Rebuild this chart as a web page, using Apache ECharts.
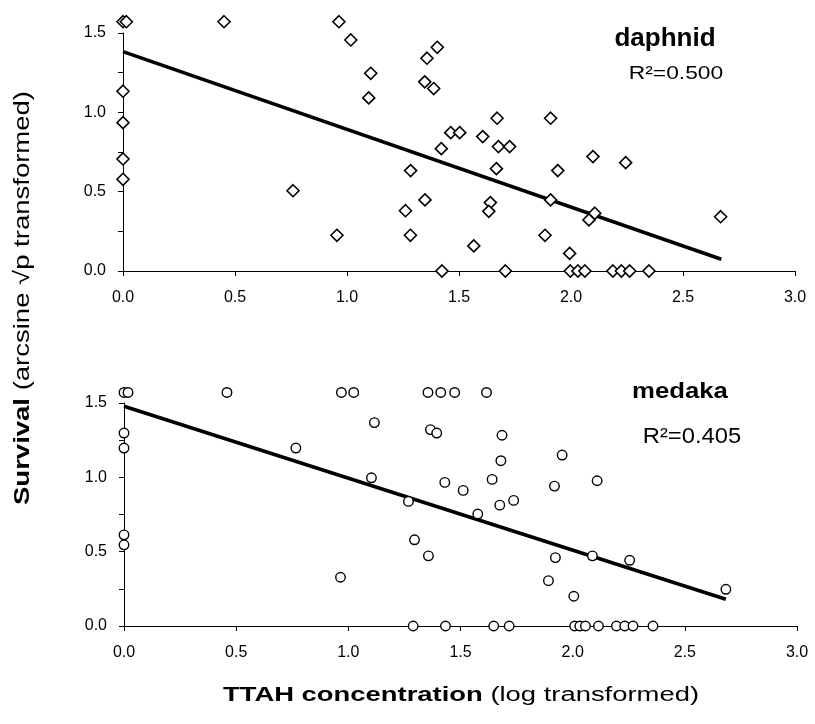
<!DOCTYPE html>
<html>
<head>
<meta charset="utf-8">
<script src="https://cdn.jsdelivr.net/npm/echarts@6/dist/echarts.min.js"></script>
<style>
html,body{margin:0;padding:0;background:#fff;}
#chart{width:815px;height:724px;}
</style>
</head>
<body>
<div id="chart"></div>
<script>
// ---- data ----
var daphnidX = [0, 0.015, 0, 0, 0, 0,
  0.451, 0.759, 0.955, 0.964, 1.017,
  1.106, 1.097, 1.357, 1.403, 1.347, 1.387,
  1.284, 1.348, 1.261, 1.283, 1.421, 1.463, 1.503,
  1.566, 1.606, 1.670, 1.676, 1.726, 1.667, 1.640, 1.633,
  1.909, 1.941, 1.909, 1.884, 1.994,
  2.098, 2.244, 2.106, 2.080, 2.668,
  1.424, 1.707, 1.997, 2.031, 2.062, 2.187, 2.225, 2.262, 2.348];
var daphnidY = [1.571, 1.571, 1.133, 0.935, 0.706, 0.578,
  1.571, 0.506, 0.225, 1.571, 1.456,
  1.246, 1.091, 1.341, 1.410, 1.192, 1.150,
  0.633, 0.448, 0.380, 0.225, 0.771, 0.872, 0.872,
  0.158, 0.847, 0.963, 0.784, 0.784, 0.645, 0.431, 0.376,
  0.963, 0.633, 0.448, 0.225, 0.111,
  0.721, 0.683, 0.364, 0.322, 0.342,
  0, 0, 0, 0, 0, 0, 0, 0, 0];
var medakaX = [0, 0.018, 0, 0, 0, 0,
  0.459, 0.766, 0.965, 0.969, 1.024,
  1.116, 1.103, 1.355, 1.412, 1.474, 1.616,
  1.366, 1.394, 1.268, 1.295, 1.357, 1.430, 1.512, 1.577,
  1.641, 1.685, 1.680, 1.675, 1.737,
  1.953, 1.919, 1.923, 1.892, 2.005,
  2.109, 2.088, 2.254, 2.683,
  1.289, 1.433, 1.648, 1.717, 2.009, 2.032, 2.057, 2.115, 2.195, 2.232, 2.269, 2.358];
var medakaY = [1.571, 1.571, 1.298, 1.197, 0.613, 0.546,
  1.571, 1.197, 0.328, 1.571, 1.571,
  1.368, 0.997, 1.571, 1.571, 1.571, 1.571,
  1.321, 1.298, 0.838, 0.580, 0.472, 0.966, 0.912, 0.753,
  0.986, 1.283, 1.112, 0.813, 0.845,
  1.150, 0.941, 0.460, 0.305, 0.200,
  0.977, 0.472, 0.442, 0.247,
  0, 0, 0, 0, 0, 0, 0, 0, 0, 0, 0, 0];
// regression line endpoints
var daphnidFitX = [0, 2.671];
var daphnidFitY = [1.383, 0.074];
var medakaFitX = [0, 2.683];
var medakaFitY = [1.478, 0.180];
var xTicks = [0.0, 0.5, 1.0, 1.5, 2.0, 2.5, 3.0];
var yTicks = [0.0, 0.5, 1.0, 1.5];
var panelNames = ['daphnid', 'medaka'];
var r2Labels = ['R\u00B2=0.500', 'R\u00B2=0.405'];
var xTitleBold = 'TTAH concentration';
var xTitleRest = ' (log transformed)';
var yTitleBold = 'Survival';
var yTitleRest = ' (arcsine \u221Ap transformed)';

function zip(a, b) { return a.map(function (v, i) { return [v, b[i]]; }); }

var FONT = '"Liberation Sans", Arial, sans-serif';
var axisCommonX = function (gi) {
  return {
    type: 'value', gridIndex: gi, min: xTicks[0], max: xTicks[xTicks.length - 1], interval: 0.5,
    axisLine: { show: true, onZero: false, lineStyle: { color: '#000', width: 1 } },
    axisTick: { show: true, length: 5, lineStyle: { color: '#000', width: 1 } },
    axisLabel: { color: '#000', fontSize: 16, fontFamily: FONT, margin: 19,
      formatter: function (v) { return v.toFixed(1); } },
    splitLine: { show: false }
  };
};
var axisCommonY = function (gi) {
  return {
    type: 'value', gridIndex: gi, min: yTicks[0], max: yTicks[yTicks.length - 1], interval: 0.25,
    axisLine: { show: true, lineStyle: { color: '#000', width: 1 } },
    axisTick: { show: true, length: 5, lineStyle: { color: '#000', width: 1 } },
    axisLabel: { color: '#000', fontSize: 16, fontFamily: FONT, margin: 17,
      formatter: function (v) {
        return yTicks.some(function (t) { return Math.abs(t - v) < 1e-6; }) ? v.toFixed(1) : '';
      } },
    splitLine: { show: false }
  };
};

var chart = echarts.init(document.getElementById('chart'), null, { renderer: 'canvas' });
var option = {
  backgroundColor: '#fff',
  animation: false,
  grid: [
    { left: 123, right: 20, top: 33, height: 238 },
    { left: 124, right: 18, top: 403, height: 223 }
  ],
  xAxis: [axisCommonX(0), axisCommonX(1)],
  yAxis: [axisCommonY(0), axisCommonY(1)],
  series: [
    { type: 'scatter', xAxisIndex: 0, yAxisIndex: 0, clip: false, symbol: 'diamond', symbolSize: 12,
      itemStyle: { color: '#fff', borderColor: '#000', borderWidth: 1.6, opacity: 1 },
      data: zip(daphnidX, daphnidY), z: 3 },
    { type: 'line', xAxisIndex: 0, yAxisIndex: 0, showSymbol: false, symbol: 'none',
      lineStyle: { color: '#000', width: 3.5 }, data: zip(daphnidFitX, daphnidFitY), z: 2 },
    { type: 'scatter', xAxisIndex: 1, yAxisIndex: 1, clip: false, symbol: 'circle', symbolSize: 9.5,
      itemStyle: { color: '#fff', borderColor: '#000', borderWidth: 1.4, opacity: 1 },
      data: zip(medakaX, medakaY), z: 3 },
    { type: 'line', xAxisIndex: 1, yAxisIndex: 1, showSymbol: false, symbol: 'none',
      lineStyle: { color: '#000', width: 3.5 }, data: zip(medakaFitX, medakaFitY), z: 2 }
  ],
  graphic: [
    { type: 'text', x: 665, y: 39, scaleX: 1.04,
      style: { text: panelNames[0], fontSize: 25, fontWeight: 'bold', fontFamily: FONT, fill: '#000',
        textAlign: 'center', textVerticalAlign: 'middle' } },
    { type: 'text', x: 676, y: 74, scaleX: 1.2,
      style: { text: r2Labels[0], fontSize: 19, fontFamily: FONT, fill: '#000',
        textAlign: 'center', textVerticalAlign: 'middle' } },
    { type: 'text', x: 680, y: 392, scaleX: 1.17,
      style: { text: panelNames[1], fontSize: 22, fontWeight: 'bold', fontFamily: FONT, fill: '#000',
        textAlign: 'center', textVerticalAlign: 'middle' } },
    { type: 'text', x: 692, y: 437, scaleX: 1.08,
      style: { text: r2Labels[1], fontSize: 22, fontFamily: FONT, fill: '#000',
        textAlign: 'center', textVerticalAlign: 'middle' } },
    { type: 'text', x: 461, y: 695, scaleX: 1.37,
      style: { text: '{b|' + xTitleBold + '}' + xTitleRest, fontSize: 20, fontFamily: FONT, fill: '#000',
        textAlign: 'center', textVerticalAlign: 'middle',
        rich: { b: { fontSize: 20, fontWeight: 'bold', fontFamily: FONT, fill: '#000' } } } },
    { type: 'text', x: 23, y: 298, rotation: Math.PI / 2, scaleX: 1.25,
      style: { text: '{b|' + yTitleBold + '}' + yTitleRest, fontSize: 22, fontFamily: FONT, fill: '#000',
        textAlign: 'center', textVerticalAlign: 'middle',
        rich: { b: { fontSize: 22, fontWeight: 'bold', fontFamily: FONT, fill: '#000' } } } }
  ]
};
chart.setOption(option);
</script>
</body>
</html>
